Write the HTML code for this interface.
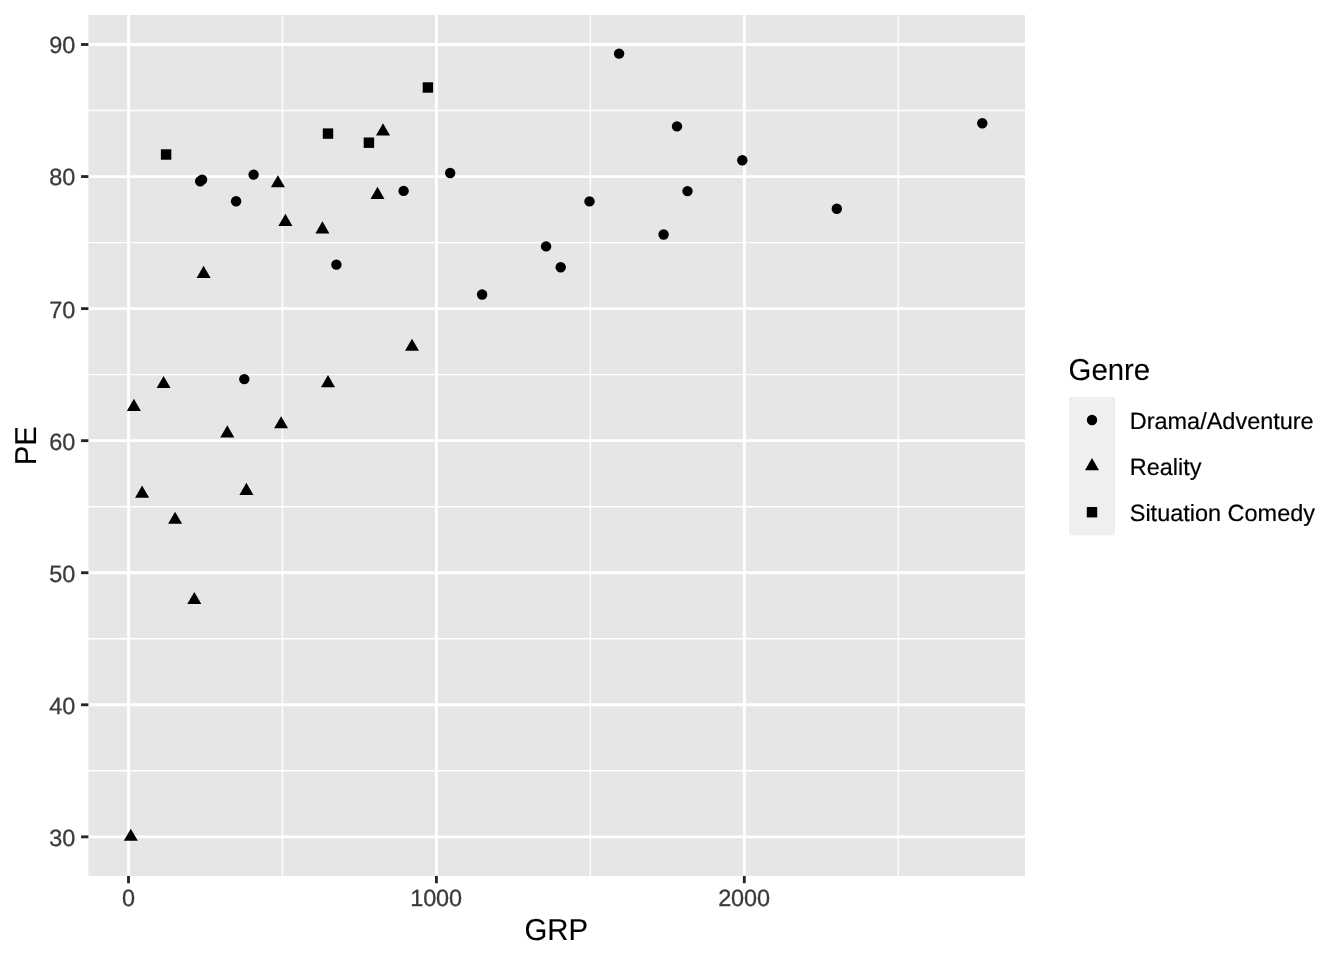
<!DOCTYPE html>
<html><head><meta charset="utf-8"><title>Plot</title>
<style>
html,body{margin:0;padding:0;background:#fff;}
body{width:1344px;height:960px;overflow:hidden;font-family:"Liberation Sans",sans-serif;}
svg{display:block;will-change:transform;}
text{text-rendering:geometricPrecision;font-family:"Liberation Sans",sans-serif;}
.at{font-size:23.47px;fill:#3B3B3B;stroke:#3B3B3B;stroke-width:0.3px;letter-spacing:-0.15px;}
.lt{font-size:23.47px;fill:#000;stroke:#000;stroke-width:0.2px;}
.ti{font-size:29.33px;fill:#000;stroke:#000;stroke-width:0.1px;}
</style></head><body>
<svg width="1344" height="960" viewBox="0 0 1344 960">
<rect x="0" y="0" width="1344" height="960" fill="#FFFFFF"/>
<rect x="88.4" y="14.9" width="936.60" height="861.00" fill="#E6E6E6"/>
<g stroke="#FFFFFF" stroke-width="1.42" fill="none">
<line x1="88.4" x2="1025.0" y1="770.81" y2="770.81"/>
<line x1="88.4" x2="1025.0" y1="638.76" y2="638.76"/>
<line x1="88.4" x2="1025.0" y1="506.70" y2="506.70"/>
<line x1="88.4" x2="1025.0" y1="374.64" y2="374.64"/>
<line x1="88.4" x2="1025.0" y1="242.59" y2="242.59"/>
<line x1="88.4" x2="1025.0" y1="110.53" y2="110.53"/>
<line y1="14.9" y2="875.9" x1="282.45" x2="282.45"/>
<line y1="14.9" y2="875.9" x1="590.35" x2="590.35"/>
<line y1="14.9" y2="875.9" x1="898.25" x2="898.25"/>
</g>
<g stroke="#FFFFFF" stroke-width="2.85" fill="none">
<line x1="88.4" x2="1025.0" y1="836.84" y2="836.84"/>
<line x1="88.4" x2="1025.0" y1="704.78" y2="704.78"/>
<line x1="88.4" x2="1025.0" y1="572.73" y2="572.73"/>
<line x1="88.4" x2="1025.0" y1="440.67" y2="440.67"/>
<line x1="88.4" x2="1025.0" y1="308.61" y2="308.61"/>
<line x1="88.4" x2="1025.0" y1="176.56" y2="176.56"/>
<line x1="88.4" x2="1025.0" y1="44.50" y2="44.50"/>
<line y1="14.9" y2="875.9" x1="128.50" x2="128.50"/>
<line y1="14.9" y2="875.9" x1="436.40" x2="436.40"/>
<line y1="14.9" y2="875.9" x1="744.30" x2="744.30"/>
</g>
<g fill="#000000">
<circle cx="619.10" cy="53.60" r="5.21"/>
<circle cx="677.00" cy="126.40" r="5.21"/>
<circle cx="982.30" cy="123.20" r="5.21"/>
<circle cx="742.30" cy="160.20" r="5.21"/>
<circle cx="450.20" cy="173.00" r="5.21"/>
<circle cx="253.60" cy="174.60" r="5.21"/>
<circle cx="200.20" cy="181.20" r="5.21"/>
<circle cx="202.10" cy="179.60" r="5.21"/>
<circle cx="403.60" cy="190.90" r="5.21"/>
<circle cx="236.10" cy="201.25" r="5.21"/>
<circle cx="589.50" cy="201.40" r="5.21"/>
<circle cx="687.50" cy="191.10" r="5.21"/>
<circle cx="836.80" cy="208.75" r="5.21"/>
<circle cx="663.60" cy="234.50" r="5.21"/>
<circle cx="546.10" cy="246.40" r="5.21"/>
<circle cx="560.70" cy="267.30" r="5.21"/>
<circle cx="336.40" cy="264.60" r="5.21"/>
<circle cx="482.10" cy="294.50" r="5.21"/>
<circle cx="244.30" cy="379.10" r="5.21"/>
<polygon points="383.00,123.30 390.02,135.45 375.98,135.45"/>
<polygon points="277.90,175.20 284.92,187.35 270.88,187.35"/>
<polygon points="377.50,186.80 384.52,198.95 370.48,198.95"/>
<polygon points="285.40,213.80 292.42,225.95 278.38,225.95"/>
<polygon points="322.40,221.30 329.42,233.45 315.38,233.45"/>
<polygon points="203.60,265.80 210.62,277.95 196.58,277.95"/>
<polygon points="412.00,338.70 419.02,350.85 404.98,350.85"/>
<polygon points="163.60,375.90 170.62,388.05 156.58,388.05"/>
<polygon points="328.00,375.10 335.02,387.25 320.98,387.25"/>
<polygon points="133.90,398.75 140.92,410.90 126.88,410.90"/>
<polygon points="281.10,416.15 288.12,428.30 274.08,428.30"/>
<polygon points="227.30,425.35 234.32,437.50 220.28,437.50"/>
<polygon points="142.10,485.50 149.12,497.65 135.08,497.65"/>
<polygon points="246.40,482.80 253.42,494.95 239.38,494.95"/>
<polygon points="175.10,511.70 182.12,523.85 168.08,523.85"/>
<polygon points="194.30,591.95 201.32,604.10 187.28,604.10"/>
<polygon points="130.80,828.70 137.82,840.85 123.78,840.85"/>
<rect x="160.89" y="149.29" width="10.42" height="10.42"/>
<rect x="322.79" y="128.39" width="10.42" height="10.42"/>
<rect x="363.69" y="137.49" width="10.42" height="10.42"/>
<rect x="422.69" y="82.29" width="10.42" height="10.42"/>
</g>
<g stroke="#242424" stroke-width="2.85" fill="none">
<line x1="81.07" x2="88.4" y1="836.84" y2="836.84"/>
<line x1="81.07" x2="88.4" y1="704.78" y2="704.78"/>
<line x1="81.07" x2="88.4" y1="572.73" y2="572.73"/>
<line x1="81.07" x2="88.4" y1="440.67" y2="440.67"/>
<line x1="81.07" x2="88.4" y1="308.61" y2="308.61"/>
<line x1="81.07" x2="88.4" y1="176.56" y2="176.56"/>
<line x1="81.07" x2="88.4" y1="44.50" y2="44.50"/>
<line y1="875.9" y2="883.23" x1="128.50" x2="128.50"/>
<line y1="875.9" y2="883.23" x1="436.40" x2="436.40"/>
<line y1="875.9" y2="883.23" x1="744.30" x2="744.30"/>
</g>
<text class="at" text-anchor="end" x="75.1" y="845.74">30</text>
<text class="at" text-anchor="end" x="75.1" y="713.68">40</text>
<text class="at" text-anchor="end" x="75.1" y="581.63">50</text>
<text class="at" text-anchor="end" x="75.1" y="449.57">60</text>
<text class="at" text-anchor="end" x="75.1" y="317.51">70</text>
<text class="at" text-anchor="end" x="75.1" y="185.46">80</text>
<text class="at" text-anchor="end" x="75.1" y="53.40">90</text>
<text class="at" text-anchor="middle" x="128.50" y="906.3">0</text>
<text class="at" text-anchor="middle" x="436.10" y="906.3">1000</text>
<text class="at" text-anchor="middle" x="744.00" y="906.3">2000</text>
<text class="ti" text-anchor="middle" transform="translate(556.3,940.2) scale(1,1.03)">GRP</text>
<text class="ti" text-anchor="middle" transform="translate(35.7,445.8) rotate(-90) scale(1,1.03)">PE</text>
<text class="ti" transform="translate(1068.6,380.0) scale(1,1.03)">Genre</text>
<rect x="1069.0" y="397.0" width="46.08" height="138.24" fill="#EFEFEF"/>
<g fill="#000000">
<circle cx="1092.00" cy="420.00" r="5.21"/>
<polygon points="1092.00,458.00 1099.02,470.15 1084.98,470.15"/>
<rect x="1086.79" y="506.99" width="10.42" height="10.42"/>
</g>
<text class="lt" x="1129.75" y="428.70">Drama/Adventure</text>
<text class="lt" x="1129.75" y="474.78">Reality</text>
<text class="lt" x="1129.75" y="520.86">Situation Comedy</text>
</svg></body></html>
